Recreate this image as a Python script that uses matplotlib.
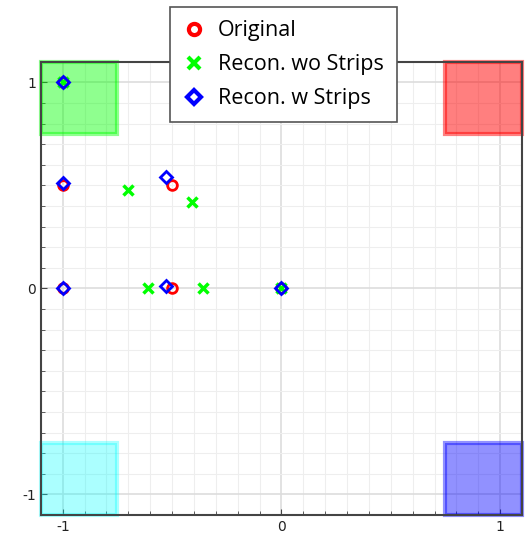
import matplotlib
matplotlib.use("Agg")
import matplotlib.pyplot as plt
from matplotlib.patches import Rectangle
from matplotlib.ticker import MultipleLocator

# point sets
orig_x = [-1, -1, -0.5, -1, -0.5, 0]
orig_y = [1, 0.5, 0.5, 0, 0, 0]
wo_x = [-1, -0.7, -0.41, -0.61, -0.36, 0]
wo_y = [1, 0.48, 0.42, 0, 0, 0]
w_x = [-1, -1, -0.53, -1, -0.53, 0]
w_y = [1, 0.51, 0.54, 0, 0.01, 0]

# corner squares: lower-left corner, colour, alpha
sq_x = [-1.1, 0.75, -1.1, 0.75]
sq_y = [0.75, 0.75, -1.1, -1.1]
sq_color = ['lime', 'red', 'cyan', 'blue']
sq_alpha = [0.44, 0.5, 0.33, 0.43]
sq_size = 0.35

fig = plt.figure(figsize=(5.31, 5.33), dpi=100)
ax = fig.add_axes([0.077, 0.034, 0.906, 0.85])

for x0, y0, c, a in zip(sq_x, sq_y, sq_color, sq_alpha):
    ax.add_patch(Rectangle((x0, y0), sq_size, sq_size, facecolor=c, alpha=a,
                           edgecolor=c, lw=3, clip_on=False, zorder=1))

ax.plot(orig_x, orig_y, 'o', ls='none', mfc='none', mec='red', mew=2, ms=7,
        label='Original', zorder=3)
ax.plot(wo_x, wo_y, 'x', ls='none', color='lime', mew=2.5, ms=7,
        label='Recon. wo Strips', zorder=4)
ax.plot(w_x, w_y, 'D', ls='none', mfc='none', mec='blue', mew=2, ms=6.5,
        label='Recon. w Strips', zorder=5)

ax.set_xlim(-1.1, 1.1)
ax.set_ylim(-1.1, 1.1)
ax.xaxis.set_minor_locator(MultipleLocator(0.1))
ax.yaxis.set_minor_locator(MultipleLocator(0.1))
ax.set_xticks([-1, 0, 1])
ax.set_xticklabels(['-1', '0', '1'])
ax.set_yticks([-1, 0, 1])
ax.set_yticklabels(['-1', '0', '1'])
ax.grid(which='major', color='#dddddd', lw=1.2, zorder=0)
ax.grid(which='minor', color='#eeeeee', lw=0.8, zorder=0)
ax.set_axisbelow(True)
ax.tick_params(which='both', direction='in', labelsize=10, colors='#444444',
               labelcolor='#222222')
ax.tick_params(which='major', length=4)
ax.tick_params(which='minor', length=3)
for s in ax.spines.values():
    s.set_color('#444444')
    s.set_linewidth(1.5)

# legend sits over the top spine, centred on x = 0
leg = ax.legend(loc='upper center', bbox_to_anchor=(0.534, 0.986),
                bbox_transform=fig.transFigure, fancybox=False, framealpha=1,
                edgecolor='#555555', prop={'family': 'Open Sans', 'size': 15.5},
                handletextpad=0.6, borderpad=0.6, labelspacing=0.6,
                handlelength=1.0, markerscale=1.15, borderaxespad=0)
for h in leg.legend_handles:
    h.set_markeredgewidth(3)
leg.get_frame().set_linewidth(1.2)
leg.set_zorder(10)

fig.savefig('out.png', dpi=100)
